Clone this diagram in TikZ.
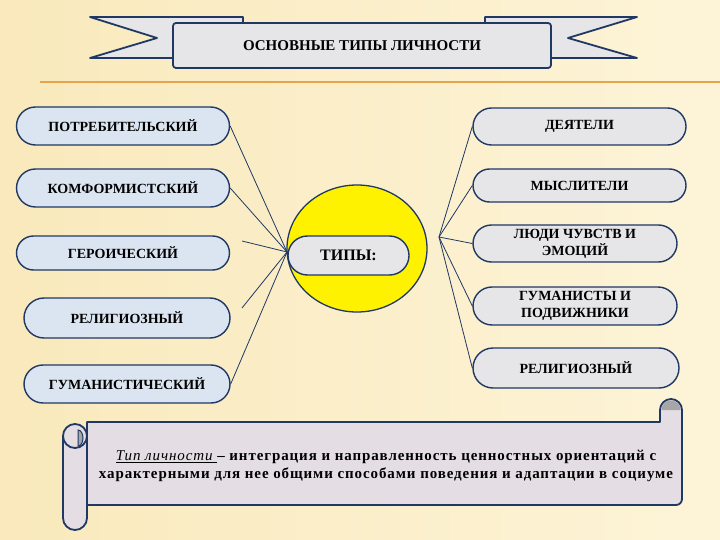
\documentclass[tikz,border=0pt]{standalone}
\usepackage{fontspec}
\setmainfont{Liberation Serif}
\usetikzlibrary{shapes.misc,shapes.geometric}

\definecolor{navy}{HTML}{1F3864}
\definecolor{lblue}{HTML}{DBE5F1}
\definecolor{lgrey}{HTML}{E6E6E8}
\definecolor{scrollc}{HTML}{E4DDE3}
\definecolor{rollgrey}{HTML}{A6A6A6}
\definecolor{bgA}{HTML}{F9E9BC}
\definecolor{bgB}{HTML}{FDF4D8}
\definecolor{orangeline}{HTML}{E6A54A}

\begin{document}
\begin{tikzpicture}[x=1pt,y=-1pt,
  lbox/.style={rounded rectangle,draw=navy,line width=1.4pt,fill=lblue,minimum width=215pt,minimum height=38pt,inner sep=1pt,align=center,font=\bfseries\fontsize{14}{17}\selectfont},
  rbox/.style={lbox,fill=lgrey},
  ribbon/.style={draw=navy,line width=1.8pt,fill=lgrey,line join=round},
  link/.style={draw=navy,line width=0.8pt}]

% background
\useasboundingbox (0,0) rectangle (720,540);
\shade[left color=bgA,right color=bgB] (0,0) rectangle (720,540);
\draw[orangeline,line width=2pt] (40,82) -- (720,82);

% title ribbon
\path[ribbon] (90,17) -- (243,17) -- (243,58) -- (90,58) -- (157,38) -- cycle;
\path[ribbon] (637,17) -- (485,17) -- (485,58) -- (637,58) -- (568,38) -- cycle;
\node[ribbon,rounded corners=3pt,minimum width=378pt,minimum height=45pt,font=\bfseries\fontsize{15}{17}\selectfont] (0) at (362,45.5) {ОСНОВНЫЕ ТИПЫ ЛИЧНОСТИ};

% centre
\node[ellipse,draw=navy,line width=1.3pt,fill=yellow,minimum width=140pt,minimum height=127pt] (c) at (357,248.5) {};
\node[rbox,minimum width=123pt,minimum height=39pt,font=\bfseries\fontsize{16}{17}\selectfont] (11) at (348.5,255.5) {ТИПЫ:};

% left types
\node[lbox] (1) at (123,126) {ПОТРЕБИТЕЛЬСКИЙ};
\node[lbox] (2) at (123,188) {КОМФОРМИСТСКИЙ};
\node[lbox,minimum height=34pt] (3) at (123,253) {ГЕРОИЧЕСКИЙ};
\node[lbox,minimum width=208pt,minimum height=40pt] (4) at (127,318) {РЕЛИГИОЗНЫЙ};
\node[lbox,minimum width=208pt] (5) at (127,384) {ГУМАНИСТИЧЕСКИЙ};

% right types
\node[rbox,minimum height=37pt] (6) at (579.5,126.5) {ДЕЯТЕЛИ};
\node[rbox,minimum height=33pt] (7) at (579.5,185.5) {МЫСЛИТЕЛИ};
\node[rbox,minimum width=206pt,minimum height=37pt] (8) at (575,243.5) {ЛЮДИ ЧУВСТВ И\\ЭМОЦИЙ};
\node[rbox,minimum width=206pt] (9) at (575,306) {ГУМАНИСТЫ И\\ПОДВИЖНИКИ};
\node[rbox,minimum width=208pt,minimum height=40pt] (10) at (576,368) {РЕЛИГИОЗНЫЙ};

\coordinate (lhub) at (287,252);
\coordinate (rhub) at (439,237);
\coordinate (3a) at (242,241);
\coordinate (4a) at (242,308);

\foreach \n in {1,2,5} \draw[link] (\n.east) -- (lhub);
\draw[link] (3a) -- (lhub);
\draw[link] (4a) -- (lhub);
\foreach \n in {6,...,10} \draw[link] (rhub) -- (\n.west);

% scroll
\path[ribbon,fill=scrollc] (87,422) -- (660,422) -- (660,410) arc[start angle=180,end angle=360,radius=11]
   -- (682,499) arc[start angle=0,end angle=90,radius=6] -- (87,505) -- cycle;
\fill[rollgrey] (661.5,410) arc[start angle=180,end angle=360,radius=9.5] -- cycle;
\path[ribbon,fill=scrollc] (63,436) -- (63,518) arc[start angle=180,end angle=0,radius=12]
   -- (87,436) arc[start angle=0,end angle=-180,radius=12] -- cycle;
\draw[navy,line width=1.8pt] (87,436) arc[start angle=0,end angle=180,radius=12];
\path[fill=rollgrey,draw=navy,line width=1pt] (78,430) arc[start angle=-90,end angle=90,x radius=5,y radius=8] -- cycle;

\node[font=\bfseries\fontsize{15}{18}\selectfont\addfontfeature{LetterSpace=6},align=center] (12) at (386,466)
  {{\mdseries\itshape\underline{Тип личности }}– интеграция и направленность ценностных ориентаций с\\
   характерными для нее общими способами поведения и адаптации в социуме};

\end{tikzpicture}
\end{document}
